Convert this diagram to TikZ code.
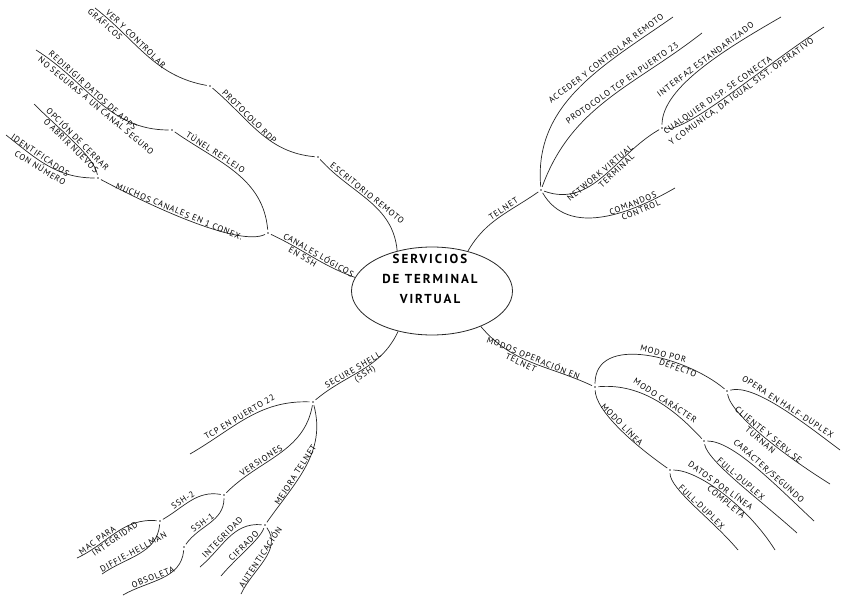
\documentclass[tikz,border=0pt]{standalone}
\usepackage{fontspec}
\newfontfamily\hand[LetterSpace=10]{PT Sans}
\newfontfamily\handb[LetterSpace=15]{PT Sans Bold}
\usetikzlibrary{shapes.geometric}
\tikzset{br/.style={draw=black!85,line width=0.7pt},
 lab/.style={sloped,above,inner sep=1.2pt,font=\hand\fontsize{8.5}{9}\selectfont},
 labb/.style={lab,below},
 core/.style={ellipse,draw=black!85,line width=0.8pt,minimum width=161pt,minimum height=88pt,inner sep=0pt},
 dot/.style={circle,fill=black!85,inner sep=0pt,minimum size=1.6pt,outer sep=2.5pt}}
\begin{document}
\begin{tikzpicture}[x=1pt,y=1pt]
\useasboundingbox (0,0) rectangle (848,-599);
\node[core](centro) at (432,-291){};
\node[align=center,font=\handb\fontsize{13}{20}\selectfont](titulo) at (430,-279){SERVICIOS\\DE TERMINAL\\VIRTUAL};
% junctions and free ends
\foreach \n/\x/\y in {j1/318/157,j2/210/86,j3/268/233,j4/172/130,j5/98/178,j6/541/190,j7/662/128,
 j8/595/387,j9/727/391,j10/704/441,j11/670/470,j12/313/402,j13/224/495,j14/160/521,j15/184/547,j16/265/525}
 \node[dot](\n) at (\x,-\y){};
\foreach \n/\x/\y in {ever/95/8,eredir/36/50,eopc/34/104,eide/6/135,eacc/673/17,ep23/702/33,eintf/781/17,
 ecual/824/27,ecmd/675/188,ehalf/840/450,eturn/830/484,ecps/814/521,efdc/797/533,edat/775/550,efdl/738/550,
 ep22/190/454,emac/77/558,edh/102/574,eobs/123/595,eint/200/567,ecif/221/576,eaut/241/594}
 \coordinate (\n) at (\x,-\y);
% escritorio remoto
\draw[br] (centro.131) to[out=95,in=-48] node[lab,pos=.55](escr){ESCRITORIO REMOTO} (j1);
\draw[br] (j1) to[out=175,in=-40] node[lab,pos=.65](rdp){PROTOCOLO RDP} (j2);
\draw[br] (j2) to[out=170,in=-38] node[lab,pos=.65](ver){VER Y CONTROLAR} node[labb,pos=.88](graf){GRÁFICOS} (ever);
% canales ssh
\draw[br] (j3) to[out=-25,in=160] node[lab,pos=.55](can){CANALES LÓGICOS} node[labb,pos=.4](enssh){EN SSH} (centro.170);
\draw[br] (j3) to[out=95,in=-35] node[lab,pos=.7](tun){TÚNEL REFLEJO} (j4);
\draw[br] (j4) to[out=180,in=-32] node[lab,pos=.58](redir){REDIRIGIR DATOS DE APPS} node[labb,pos=.5](noseg){NO SEGURAS A UN CANAL SEGURO} (eredir);
\draw[br] (j3) to[out=-154,in=-28,out looseness=.4] node[lab,pos=.6](muc){MUCHOS CANALES EN 1 CONEX.} (j5);
\draw[br] (j5) to[out=100,in=-45,out looseness=.5] node[lab,pos=.5](opc){OPCIÓN DE CERRAR} node[labb,pos=.5](abr){O ABRIR NUEVOS} (eopc);
\draw[br] (j5) to[out=180,in=-38] node[lab,pos=.62](ide){IDENTIFICADOS} node[labb,pos=.55](num){CON NÚMERO} (eide);
% telnet
\draw[br] (centro.48) to[out=60,in=-145] node[lab,pos=.6](tel){TELNET} (j6);
\draw[br] (j6) to[out=95,in=-145] node[lab,pos=.68](acc){ACCEDER Y CONTROLAR REMOTO} (eacc);
\draw[br] (j6) to[out=70,in=-142] node[lab,pos=.6](p23){PROTOCOLO TCP EN PUERTO 23} (ep23);
\draw[br] (j6) to[out=-20,in=-150] node[lab,pos=.5](nvt){NETWORK VIRTUAL} node[labb,pos=.6](term){TERMINAL} (j7);
\draw[br] (j7) to[out=90,in=-150,out looseness=.6] node[lab,pos=.55](intf){INTERFAZ ESTANDARIZADO} (eintf);
\draw[br] (j7) to[out=-10,in=-147,out looseness=.3] node[lab,pos=.45](cual){CUALQUIER DISP. SE CONECTA} node[labb,pos=.55](comu){Y COMUNICA, DA IGUAL SIST. OPERATIVO} (ecual);
\draw[br] (j6) to[out=-60,in=-150] node[lab,pos=.72](cmd){COMANDOS} node[labb,pos=.75](ctrl){CONTROL} (ecmd);
% modos de operacion
\draw[br] (centro.-36) to[out=-50,in=155] node[lab,pos=.5](mod){MODOS OPERACIÓN EN} node[labb,pos=.42](telb){TELNET} (j8);
\draw[br] (j8) to[out=90,in=140] node[lab,pos=.6](def){MODO POR} node[labb,pos=.7](defb){DEFECTO} (j9);
\draw[br] (j9) to[out=15,in=143,out looseness=.5] node[lab,pos=.55](half){OPERA EN HALF-DUPLEX} (ehalf);
\draw[br] (j9) to[out=-80,in=148,out looseness=.4] node[lab,pos=.52](cli){CLIENTE Y SERV. SE} node[labb,pos=.5](turn){TURNAN} (eturn);
\draw[br] (j8) to[out=5,in=133,in looseness=.8] node[lab,pos=.55](car){MODO CARÁCTER} (j10);
\draw[br] (j10) to[out=0,in=137,out looseness=.5] node[lab,pos=.58](cps){CARÁCTER/SEGUNDO} (ecps);
\draw[br] (j10) to[out=-80,in=138,out looseness=.35] node[lab,pos=.5](fdc){FULL-DUPLEX} (efdc);
\draw[br] (j8) to[out=-88,in=145,out looseness=.5] node[lab,pos=.5](lin){MODO LÍNEA} (j11);
\draw[br] (j11) to[out=0,in=122,out looseness=.5] node[lab,pos=.45](dat){DATOS POR LÍNEA} node[labb,pos=.55](cmp){COMPLETA} (edat);
\draw[br] (j11) to[out=-90,in=130,out looseness=.4] node[lab,pos=.55](fdl){FULL-DUPLEX} (efdl);
% secure shell
\draw[br] (centro.-130) to[out=-115,in=40] node[lab,pos=.58](sec){SECURE SHELL} node[labb,pos=.5](ssh){(SSH)} (j12);
\draw[br] (j12) to[out=178,in=30] node[lab,pos=.55](p22){TCP EN PUERTO 22} (ep22);
\draw[br] (j12) to[out=-100,in=45] node[lab,pos=.65](vers){VERSIONES} (j13);
\draw[br] (j13) to[out=170,in=30] node[lab,pos=.6](sdos){SSH-2} (j14);
\draw[br] (j14) to[out=175,in=25] node[lab,pos=.72](mac){MAC PARA} node[labb,pos=.55](integ){INTEGRIDAD} (emac);
\draw[br] (j14) to[out=-95,in=35] node[lab,pos=.55](dh){DIFFIE-HELLMAN} (edh);
\draw[br] (j13) to[out=-90,in=55] node[lab,pos=.6](suno){SSH-1} (j15);
\draw[br] (j15) to[out=-95,in=30] node[lab,pos=.6](obs){OBSOLETA} (eobs);
\draw[br] (j12) to[out=-75,in=55] node[lab,pos=.6](mej){MEJORA TELNET} (j16);
\draw[br] (j16) to[out=175,in=40] node[lab,pos=.55](intb){INTEGRIDAD} (eint);
\draw[br] (j16) to[out=-110,in=50,out looseness=.5] node[lab,pos=.5](cif){CIFRADO} (ecif);
\draw[br] (j16) to[out=-55,in=65] node[lab,pos=.5](aut){AUTENTICACIÓN} (eaut);
\end{tikzpicture}
\end{document}
